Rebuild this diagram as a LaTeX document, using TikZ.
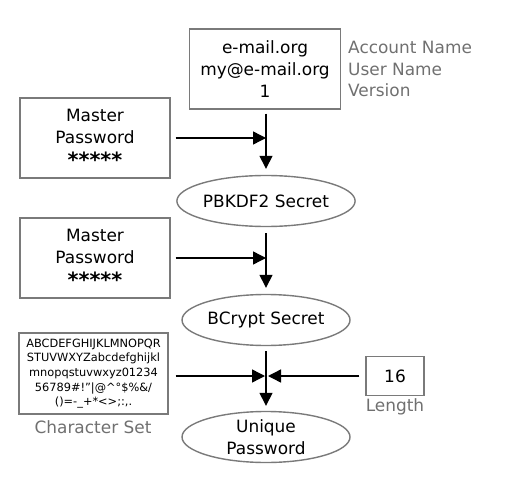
\documentclass[tikz,border=0pt]{standalone}
\usepackage{fontspec}
\setmainfont{DejaVu Sans}
\usetikzlibrary{shapes.geometric,arrows.meta}
\definecolor{bordergray}{HTML}{7A7A7A}
\definecolor{labelgray}{HTML}{707070}
\newcommand{\stars}{{\fontsize{21}{22}\selectfont\bfseries\raisebox{-2bp}{*****}}}
\begin{document}
\begin{tikzpicture}[x=1bp,y=-1bp,
  big/.style={font=\fontsize{17}{22}\selectfont},
  box/.style={draw=bordergray,line width=1.4bp,align=center,inner sep=0pt,big},
  ell/.style={ellipse,draw=bordergray,line width=1.4bp,align=center,inner sep=0pt,minimum width=168bp,minimum height=51bp,big},
  lbl/.style={text=labelgray,big,inner sep=0pt},
  arr/.style={line width=1.4bp,-{Triangle[length=13bp,width=13bp]}},
  ln/.style={line width=1.4bp}]
\useasboundingbox (0,0) rectangle (509,499);
% top box
\node[box,minimum width=151bp,minimum height=80bp] (acct) at (265,69) {e-mail.org\\my@e-mail.org\\1};
\node[lbl,anchor=west,align=left] (acctlbl) at (348,69) {Account Name\\User Name\\Version};
% master 1
\node[box,minimum width=150bp,minimum height=80bp] (m1) at (95,138) {Master\\Password\\\stars};
\node[ell] (pb) at (266,201) {PBKDF2 Secret};
\coordinate (j1) at (266,138);
\draw[arr,shorten <=4bp,shorten >=6bp] (acct.south -| pb.north) -- (pb.north);
\draw[arr,shorten <=5bp] (m1.east) -- (j1);
% master 2
\node[box,minimum width=150bp,minimum height=80bp] (m2) at (95,258) {Master\\Password\\\stars};
\node[ell] (bc) at (266,320) {BCrypt Secret};
\coordinate (j2) at (266,258);
\draw[arr,shorten <=6bp,shorten >=6bp] (pb.south) -- (bc.north);
\draw[arr,shorten <=5bp] (m2.east) -- (j2);
% character set
\node[box,minimum width=149bp,minimum height=81bp,font=\fontsize{11.4}{14.7}\selectfont] (cs) at (93.5,373.5) {ABCDEFGHIJKLMNOPQR\\STUVWXYZabcdefghijkl\\mnopqstuvwxyz01234\\56789\#!"|@\^{}°\$\%\&/\\()=-\_+*<>;:,.};
\node[lbl] (cslbl) at (93,427) {Character Set};
\node[box,minimum width=58bp,minimum height=39bp] (len) at (395,376) {16};
\node[lbl] (lenlbl) at (395,407) {Length};
\node[ell] (up) at (266,437) {Unique\\Password};
\coordinate (j3l) at (265,376);
\coordinate (j3r) at (268,376);
\draw[arr,shorten <=5bp,shorten >=5bp] (bc.south) -- (up.north);
\draw[arr,shorten <=7bp] (cs.east |- j3l) -- (j3l);
\draw[arr,shorten <=6bp] (len.west) -- (j3r);
\end{tikzpicture}
\end{document}
